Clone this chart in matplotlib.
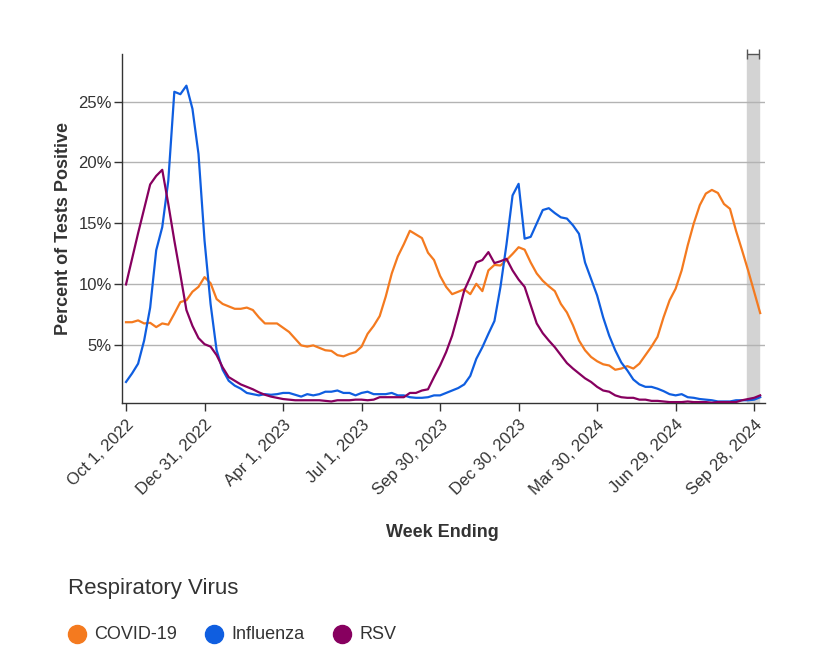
import matplotlib.pyplot as plt
import pandas as pd
from matplotlib.lines import Line2D

plt.rcParams['font.family'] = ['Liberation Sans', 'DejaVu Sans']

weeks = pd.date_range('2022-10-01', periods=106, freq='7D')

covid = [6.9, 6.9, 7.05, 6.8, 6.85, 6.5, 6.8, 6.7, 7.6, 8.55,
         8.7, 9.4, 9.8, 10.6, 10.1, 8.8, 8.4, 8.2, 8.0, 8.0,
         8.1, 7.9, 7.3, 6.8, 6.8, 6.8, 6.45, 6.1, 5.55, 5.0,
         4.9, 5.0, 4.8, 4.6, 4.55, 4.2, 4.1, 4.3, 4.45, 4.9,
         5.95, 6.6, 7.4, 9.0, 10.9, 12.3, 13.3, 14.4, 14.1, 13.8,
         12.6, 12.0, 10.7, 9.8, 9.2, 9.4, 9.6, 9.2, 10.05, 9.45,
         11.15, 11.6, 11.55, 12.0, 12.5, 13.05, 12.85, 11.8, 10.9, 10.3,
         9.85, 9.45, 8.4, 7.7, 6.65, 5.4, 4.6, 4.05, 3.7, 3.45,
         3.35, 3.0, 3.1, 3.3, 3.1, 3.5, 4.2, 4.9, 5.7, 7.3,
         8.7, 9.65, 11.15, 13.2, 15.0, 16.5, 17.45, 17.75, 17.5, 16.6,
         16.2, 14.4, 12.8, 11.15, 9.4, 7.65]

influenza = [2.0, 2.7, 3.5, 5.4, 8.1, 12.8, 14.7, 18.5, 25.8, 25.6,
             26.3, 24.4, 20.7, 13.6, 8.4, 4.6, 3.0, 2.1, 1.7, 1.45,
             1.1, 1.0, 0.9, 1.0, 0.95, 1.0, 1.1, 1.1, 0.95, 0.8,
             1.0, 0.9, 1.0, 1.2, 1.2, 1.3, 1.1, 1.1, 0.9, 1.1,
             1.2, 1.0, 1.0, 1.0, 1.1, 0.9, 0.9, 0.75, 0.7, 0.7,
             0.75, 0.9, 0.9, 1.1, 1.3, 1.5, 1.8, 2.5, 3.9, 4.85,
             5.95, 7.0, 9.8, 13.3, 17.3, 18.25, 13.75, 13.9, 15.0, 16.1,
             16.25, 15.85, 15.5, 15.4, 14.85, 14.15, 11.8, 10.45, 9.1, 7.3,
             5.8, 4.6, 3.6, 2.95, 2.2, 1.8, 1.6, 1.6, 1.45, 1.25,
             1.0, 0.9, 1.0, 0.75, 0.7, 0.6, 0.55, 0.5, 0.4, 0.4,
             0.4, 0.5, 0.5, 0.5, 0.55, 0.75]

rsv = [10.0, 12.1, 14.2, 16.2, 18.2, 18.9, 19.4, 16.6, 13.6, 10.8,
       7.9, 6.6, 5.6, 5.1, 4.9, 4.2, 3.2, 2.4, 2.1, 1.8,
       1.6, 1.4, 1.15, 0.95, 0.8, 0.7, 0.6, 0.55, 0.5, 0.5,
       0.5, 0.5, 0.5, 0.45, 0.4, 0.5, 0.5, 0.5, 0.55, 0.55,
       0.5, 0.55, 0.75, 0.75, 0.75, 0.75, 0.75, 1.1, 1.1, 1.3,
       1.4, 2.4, 3.35, 4.45, 5.8, 7.6, 9.5, 10.6, 11.8, 12.0,
       12.65, 11.75, 11.9, 12.1, 11.15, 10.4, 9.8, 8.3, 6.8, 6.0,
       5.4, 4.85, 4.2, 3.55, 3.1, 2.7, 2.3, 2.0, 1.6, 1.3,
       1.2, 0.9, 0.75, 0.7, 0.7, 0.55, 0.55, 0.45, 0.45, 0.4,
       0.35, 0.35, 0.35, 0.4, 0.35, 0.35, 0.35, 0.3, 0.35, 0.35,
       0.35, 0.35, 0.5, 0.6, 0.7, 0.9]

series_names = ['COVID-19', 'Influenza', 'RSV']
series_colors = ['#f47a1f', '#0f5ee0', '#87005f']
y_ticks = [5, 10, 15, 20, 25]
tick_dates = weeks[0:105:13]

txt = '#333333'

fig = plt.figure(figsize=(8.37, 6.63), dpi=100)
ax = fig.add_axes([0.1454, 0.3917, 0.7686, 0.5269])

# shaded band for the most recent (incomplete) weeks
band_start = weeks[102] + pd.Timedelta(days=6)
band_end = weeks[105] - pd.Timedelta(days=1)
ax.axvspan(band_start, band_end, color='#d3d3d3', zorder=0)
ax.hlines(28.9, band_start, band_end, color='#555555', lw=1, clip_on=False)
ax.vlines([band_start, band_end], 28.5, 29.3, color='#555555', lw=1, clip_on=False)

for vals, name, col in zip([covid, influenza, rsv], series_names, series_colors):
    ax.plot(weeks, vals, color=col, linewidth=1.6, label=name, zorder=3)

ax.set_ylim(0.25, 28.9)
ax.set_xlim(weeks[0] - pd.Timedelta(days=5), weeks[0] + pd.Timedelta(days=7 * 105.8))

ax.set_yticks(y_ticks)
ax.set_yticklabels([f'{v}%' for v in y_ticks], fontsize=12, color=txt)
ax.tick_params(axis='y', length=6, width=1, color=txt, pad=1)
ax.grid(axis='y', color='#b3b3b3', linewidth=1)
ax.set_axisbelow(True)

ax.set_xticks(tick_dates)
ax.set_xticklabels([d.strftime('%b ') + str(d.day) + d.strftime(', %Y') for d in tick_dates],
                   rotation=45, ha='right', rotation_mode='anchor', fontsize=12, color=txt)
ax.tick_params(axis='x', length=6, width=1, color=txt, pad=4)

for s in ['top', 'right']:
    ax.spines[s].set_visible(False)
for s in ['left', 'bottom']:
    ax.spines[s].set_color(txt)
    ax.spines[s].set_linewidth(1)

ax.set_ylabel('Percent of Tests Positive', fontsize=13, fontweight='bold', color=txt, labelpad=5)
fig.text(0.529, 0.197, 'Week Ending', fontsize=13, fontweight='bold', color=txt, ha='center', va='center')

# legend
fig.text(0.081, 0.113, 'Respiratory Virus', fontsize=16, color=txt, ha='left', va='center')
legend_x = [0.092, 0.256, 0.409]
for x, name, col in zip(legend_x, series_names, series_colors):
    fig.add_artist(Line2D([x], [0.043], marker='o', markersize=13, color=col,
                          markeredgecolor=col, transform=fig.transFigure))
    fig.text(x + 0.021, 0.043, name, fontsize=13, color=txt, ha='left', va='center')

fig.savefig('out.png', dpi=100)
